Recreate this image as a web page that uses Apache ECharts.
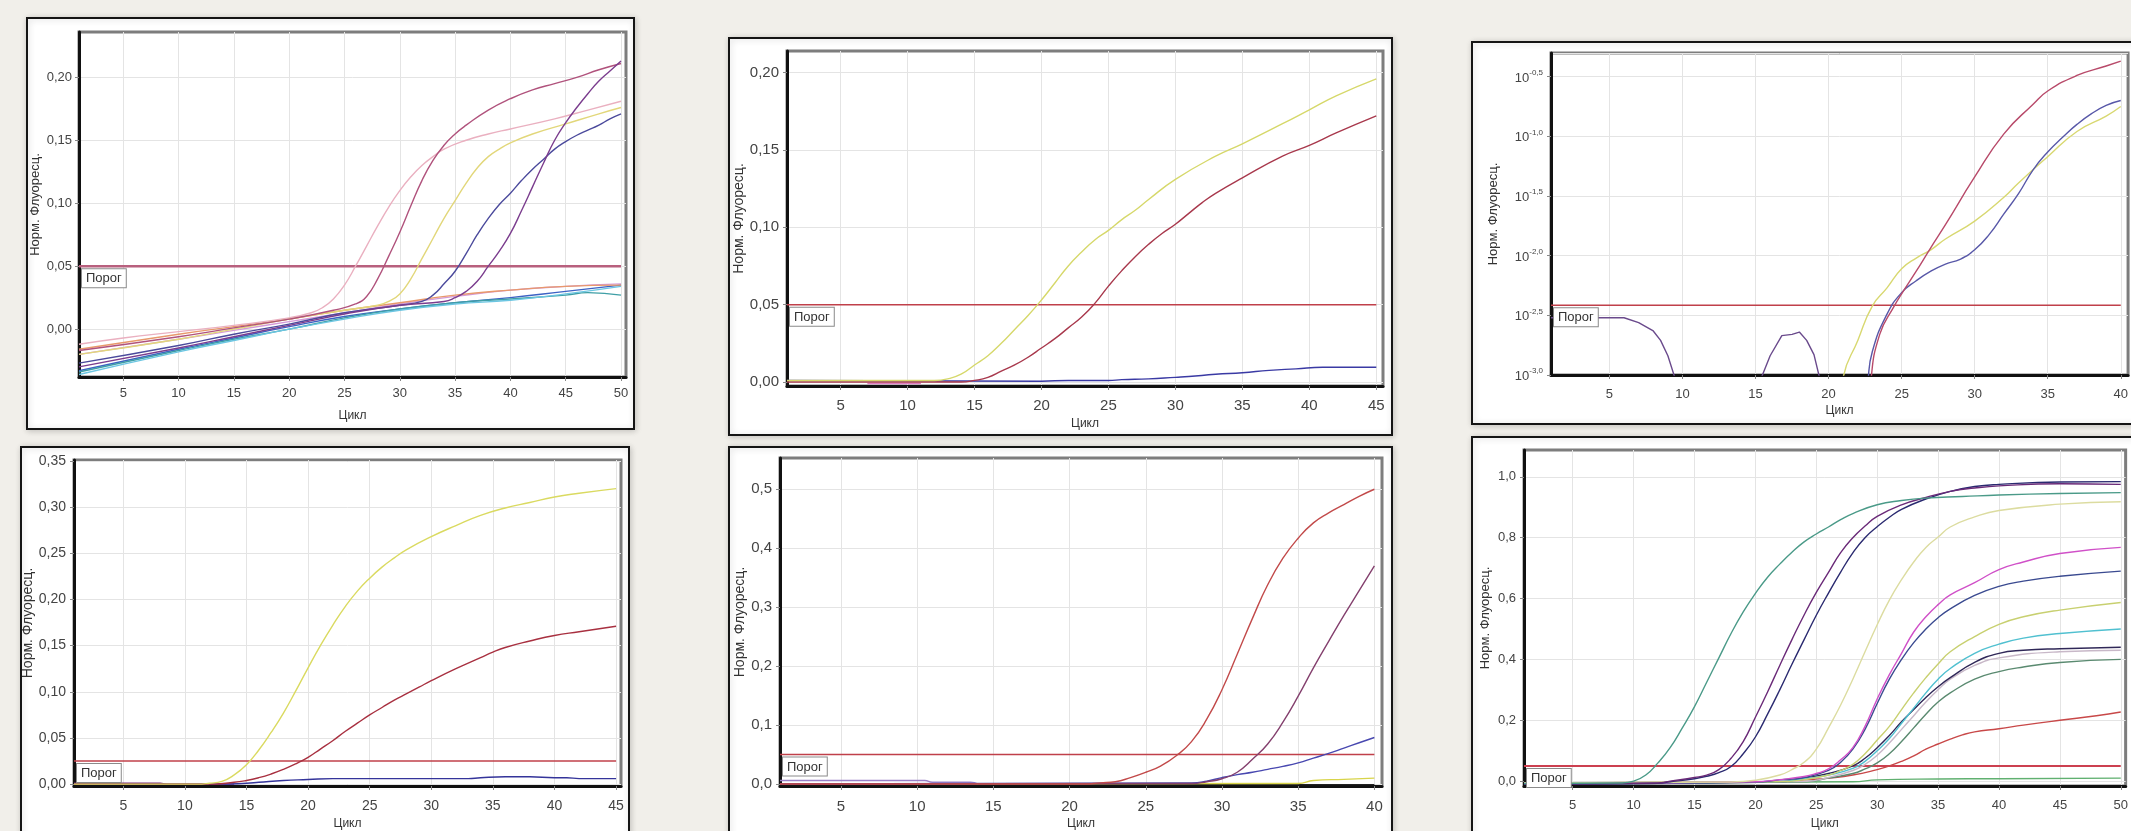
<!DOCTYPE html>
<html><head><meta charset="utf-8">
<script src="https://cdn.jsdelivr.net/npm/echarts@6/dist/echarts.min.js"></script>
<style>html,body{margin:0;padding:0;background:#f1efea;}#c{width:2131px;height:831px;}</style>
</head><body><div id="c"></div>
<script>
// ---------- tick labels ----------
const ticks50 = [5,10,15,20,25,30,35,40,45,50];
const ticks45 = [5,10,15,20,25,30,35,40,45];
const ticks40 = [5,10,15,20,25,30,35,40];
const p1YTicks = [0,0.05,0.10,0.15,0.20];
const p2YTicks = [0,0.05,0.10,0.15,0.20];
const p4YTicks = [0,0.05,0.10,0.15,0.20,0.25,0.30,0.35];
const p5YTicks = [0,0.1,0.2,0.3,0.4,0.5];
const p6YTicks = [0,0.2,0.4,0.6,0.8,1.0];
const thresholds = [0.05, 0.05, 0.00384, 0.025, 0.05, 0.05];
const lastCycle = [50, 45, 40, 45, 40, 50];

// ---------- panel 1 ----------
const p1Rose = [[1,-0.017],[10,-0.006],[15,0.001],[20,0.008],[24,0.015],[26,0.02],[27,0.026],[28,0.04],[29,0.058],[30,0.077],[31,0.098],[32,0.118],[33,0.134],[34,0.146],[35,0.155],[36,0.162],[38,0.174],[40,0.183],[42,0.19],[44,0.195],[46,0.2],[48,0.206],[50,0.211]];
const p1Pink = [[1,-0.012],[5,-0.007],[10,-0.002],[15,0.003],[20,0.009],[22,0.013],[23,0.017],[24,0.024],[25,0.035],[26,0.05],[27,0.066],[28,0.082],[29,0.097],[30,0.11],[31,0.121],[32,0.13],[33,0.137],[34,0.143],[36,0.15],[38,0.155],[40,0.159],[44,0.167],[47,0.174],[50,0.181]];
const p1Yellow = [[1,-0.02],[10,-0.008],[15,0.0],[20,0.008],[25,0.015],[28,0.019],[29,0.022],[30,0.028],[31,0.04],[32,0.056],[33,0.072],[34,0.088],[35,0.102],[36,0.116],[37,0.128],[38,0.137],[39,0.143],[40,0.148],[42,0.155],[45,0.163],[48,0.171],[50,0.176]];
const p1Navy = [[1,-0.027],[10,-0.013],[15,-0.004],[20,0.004],[25,0.013],[30,0.019],[32,0.022],[33,0.027],[34,0.036],[35,0.046],[36,0.06],[37,0.075],[38,0.088],[39,0.099],[40,0.108],[41,0.118],[42,0.127],[43,0.135],[44,0.143],[45,0.149],[46,0.154],[47,0.158],[48,0.162],[49,0.167],[50,0.171]];
const p1Purple = [[1,-0.03],[10,-0.015],[15,-0.006],[20,0.003],[25,0.012],[30,0.019],[34,0.022],[35,0.025],[36,0.03],[37,0.038],[38,0.05],[39,0.062],[40,0.076],[41,0.094],[42,0.113],[43,0.132],[44,0.15],[45,0.164],[46,0.176],[47,0.187],[48,0.197],[49,0.205],[50,0.213]];
const p1Lilac = [[1,-0.02],[10,-0.008],[15,-0.001],[20,0.006],[25,0.013],[30,0.02],[35,0.026],[40,0.031],[45,0.034],[50,0.036]];
const p1Blue = [[1,-0.033],[10,-0.016],[15,-0.007],[20,0.002],[25,0.01],[30,0.016],[35,0.021],[40,0.025],[45,0.03],[50,0.035]];
const p1Teal = [[1,-0.034],[10,-0.017],[15,-0.008],[20,0.0],[25,0.009],[30,0.016],[35,0.021],[40,0.024],[45,0.027],[47,0.029],[50,0.027]];
const p1Cyan = [[1,-0.036],[10,-0.018],[15,-0.009],[20,0.0],[25,0.008],[30,0.015],[35,0.02],[40,0.023],[45,0.028],[50,0.034]];
const p1Orange = [[1,-0.016],[10,-0.004],[15,0.002],[20,0.008],[25,0.015],[30,0.021],[35,0.027],[40,0.031],[45,0.034],[50,0.035]];

// ---------- panel 2 ----------
const p2Yellow = [[1,0.001],[10,0.001],[12,0.001],[13,0.002],[14,0.005],[15,0.011],[16,0.017],[17,0.025],[18,0.034],[19,0.043],[20,0.053],[21,0.064],[22,0.075],[23,0.084],[24,0.092],[25,0.098],[26,0.105],[27,0.111],[28,0.118],[30,0.131],[33,0.146],[35,0.154],[38,0.167],[40,0.176],[42,0.185],[45,0.196]];
const p2Red = [[1,0.0],[12,0.0],[14,0.0],[15,0.001],[16,0.003],[17,0.007],[18,0.011],[19,0.016],[20,0.022],[21,0.028],[22,0.035],[23,0.042],[24,0.051],[25,0.062],[26,0.072],[27,0.081],[28,0.089],[29,0.096],[30,0.102],[31,0.109],[32,0.116],[33,0.122],[35,0.132],[38,0.146],[40,0.153],[42,0.161],[45,0.172]];
const p2Blue = [[1,0.001],[20,0.0005],[22,0.001],[25,0.001],[26,0.0015],[28,0.002],[30,0.003],[31,0.0035],[33,0.005],[35,0.006],[37,0.0075],[39,0.0085],[41,0.0095],[45,0.0095]];
const p2Pink = [[7,-0.001],[11,-0.001]];

// ---------- panel 3 (log) ----------
const p3Red = [[22.8,0.0005],[22.9,0.00089],[23.5,0.00219],[24.5,0.0038],[25,0.00479],[26,0.00741],[27,0.0117],[28,0.0182],[30,0.0457],[32,0.105],[34,0.186],[35,0.24],[37,0.324],[39,0.389],[40,0.427]];
const p3Yellow = [[20.8,0.0005],[21,0.00095],[22,0.00195],[23,0.0038],[24,0.00537],[25,0.00776],[26,0.00955],[27,0.0112],[28,0.0138],[30,0.0195],[32,0.0309],[33,0.0407],[35,0.0676],[37,0.11],[39,0.148],[40,0.178]];
const p3Blue = [[22.6,0.0005],[22.7,0.00089],[23,0.00158],[24,0.00324],[25,0.0049],[26,0.00617],[27,0.00741],[28,0.00851],[29,0.00933],[30,0.0112],[31,0.0151],[32,0.0224],[33,0.0331],[34,0.0525],[35,0.0741],[36,0.0977],[37,0.126],[38,0.155],[39,0.182],[40,0.2]];
const p3Noise = [[1,0.00302],[6,0.00302],[7,0.00275],[8,0.00234],[8.5,0.00195],[9,0.00145],[9.5,0.00093],[9.7,0.0003],[15.1,0.0003],[15.4,0.00095],[16,0.00145],[16.8,0.00214],[17.5,0.00219],[18,0.00229],[18.5,0.00195],[19,0.00148],[19.4,0.00093],[19.6,0.0003]];

// ---------- panel 4 ----------
const p4Yellow = [[1,0.0],[11,0.0],[12,0.001],[13,0.003],[14,0.01],[15,0.021],[16,0.037],[17,0.056],[18,0.077],[19,0.101],[20,0.126],[21,0.15],[22,0.172],[23,0.192],[24,0.209],[25,0.223],[26,0.235],[27,0.245],[28,0.254],[30,0.268],[32,0.28],[34,0.291],[36,0.299],[38,0.305],[40,0.311],[42,0.315],[45,0.32]];
const p4Red = [[1,0.0],[12,0.0],[14,0.002],[15,0.004],[16,0.007],[17,0.011],[18,0.016],[19,0.022],[20,0.029],[21,0.038],[22,0.047],[23,0.057],[24,0.066],[25,0.075],[26,0.083],[27,0.091],[28,0.098],[29,0.105],[30,0.112],[32,0.125],[34,0.137],[35,0.143],[36,0.148],[38,0.155],[40,0.161],[42,0.165],[45,0.171]];
const p4Blue = [[1,0.0],[13,0.0],[15,0.001],[16,0.002],[18,0.004],[20,0.005],[22,0.006],[25,0.006],[30,0.006],[33,0.006],[34,0.007],[36,0.008],[38,0.008],[40,0.007],[41,0.007],[42,0.006],[45,0.006]];
const p4Purple = [[1,0.001],[8,0.001],[8.5,0.0],[14,0.0]];

// ---------- panel 5 ----------
const p5Red = [[1,0.0],[21,0.0],[22,0.002],[23,0.004],[24,0.011],[25,0.02],[26,0.031],[27,0.048],[28,0.072],[29,0.11],[30,0.16],[31,0.22],[32,0.281],[33,0.338],[34,0.383],[35,0.417],[36,0.443],[37,0.46],[38,0.474],[39,0.488],[40,0.5]];
const p5Purple = [[1,0.0],[28,0.001],[29,0.004],[30,0.009],[31,0.02],[32,0.042],[33,0.068],[34,0.105],[35,0.149],[36,0.197],[37,0.242],[38,0.286],[39,0.328],[40,0.37]];
const p5Blue = [[1,0.0],[28,0.002],[29,0.005],[30,0.011],[31,0.016],[32,0.02],[33,0.025],[34,0.03],[35,0.036],[36,0.044],[37,0.052],[38,0.061],[39,0.07],[40,0.079]];
const p5Yellow = [[1,0.0],[35,0.001],[36,0.006],[38,0.008],[40,0.01]];
const p5Lavender = [[1,0.006],[10.5,0.006],[11,0.003],[13.5,0.003],[14,0.0]];
const p5Dark = [[1,-0.001],[40,-0.001]];

// ---------- panel 6 ----------
const p6Teal = [[1,-0.008],[9,-0.006],[10,0.0],[11,0.02],[12,0.06],[13,0.11],[14,0.175],[15,0.245],[16,0.325],[17,0.405],[18,0.485],[19,0.556],[20,0.617],[21,0.67],[22,0.713],[23,0.752],[24,0.786],[25,0.812],[26,0.835],[27,0.859],[28,0.879],[30,0.908],[32,0.922],[34,0.93],[37,0.935],[40,0.94],[45,0.945],[50,0.948]];
const p6Purple = [[1,-0.009],[12,-0.006],[13,0.0],[15,0.012],[16,0.02],[17,0.038],[18,0.075],[19,0.13],[20,0.21],[21,0.293],[22,0.38],[23,0.465],[24,0.546],[25,0.62],[26,0.686],[27,0.751],[28,0.8],[29,0.838],[30,0.87],[32,0.908],[34,0.932],[36,0.952],[38,0.963],[40,0.97],[45,0.977],[50,0.975]];
const p6Navy = [[1,-0.01],[12,-0.007],[13,-0.002],[15,0.008],[16,0.016],[17,0.028],[18,0.048],[19,0.09],[20,0.145],[21,0.22],[22,0.3],[23,0.384],[24,0.465],[25,0.545],[26,0.618],[27,0.687],[28,0.75],[29,0.8],[30,0.836],[31,0.867],[32,0.893],[34,0.927],[36,0.952],[38,0.968],[40,0.975],[45,0.983],[50,0.984]];
const p6PaleYellow = [[1,-0.006],[18,-0.003],[20,0.003],[22,0.02],[23,0.038],[24,0.062],[25,0.105],[26,0.175],[27,0.25],[28,0.335],[29,0.425],[30,0.514],[31,0.595],[32,0.662],[33,0.72],[34,0.768],[35,0.802],[36,0.835],[38,0.868],[40,0.889],[45,0.91],[50,0.918]];
const p6Magenta = [[1,-0.007],[20,-0.002],[22,0.005],[24,0.015],[25,0.025],[26,0.04],[27,0.07],[28,0.11],[29,0.18],[30,0.27],[31,0.35],[32,0.42],[33,0.49],[34,0.54],[35,0.58],[36,0.612],[38,0.652],[40,0.695],[42,0.72],[45,0.748],[50,0.768]];
const p6Slate = [[1,-0.008],[20,-0.003],[22,0.004],[24,0.012],[26,0.035],[27,0.062],[28,0.105],[29,0.17],[30,0.255],[31,0.335],[32,0.4],[33,0.455],[34,0.5],[35,0.537],[36,0.566],[38,0.61],[40,0.64],[42,0.657],[45,0.673],[50,0.69]];
const p6Lime = [[1,-0.007],[22,-0.002],[24,0.005],[26,0.02],[27,0.035],[28,0.055],[29,0.09],[30,0.135],[31,0.18],[32,0.235],[33,0.29],[34,0.34],[35,0.385],[36,0.425],[38,0.475],[40,0.515],[42,0.54],[45,0.562],[50,0.587]];
const p6Cyan = [[1,-0.008],[22,-0.002],[24,0.008],[26,0.02],[28,0.042],[29,0.065],[30,0.1],[31,0.14],[32,0.19],[33,0.24],[34,0.29],[35,0.335],[36,0.37],[38,0.42],[40,0.45],[42,0.47],[45,0.485],[50,0.5]];
const p6Dark = [[1,-0.01],[22,-0.003],[24,0.01],[26,0.025],[28,0.05],[29,0.075],[30,0.11],[31,0.15],[32,0.195],[33,0.235],[34,0.275],[35,0.31],[36,0.34],[38,0.39],[40,0.42],[42,0.43],[45,0.435],[50,0.44]];
const p6Gray = [[1,-0.006],[24,-0.001],[26,0.012],[28,0.035],[29,0.055],[30,0.085],[31,0.125],[32,0.17],[33,0.215],[34,0.26],[35,0.3],[36,0.335],[38,0.38],[40,0.405],[45,0.425],[50,0.43]];
const p6Sage = [[1,-0.009],[24,-0.002],[26,0.01],[28,0.025],[29,0.04],[30,0.06],[31,0.09],[32,0.13],[33,0.175],[34,0.22],[35,0.26],[36,0.29],[38,0.335],[40,0.36],[42,0.375],[45,0.39],[50,0.4]];
const p6Red = [[1,-0.007],[22,-0.002],[24,0.004],[26,0.01],[28,0.02],[30,0.038],[31,0.05],[32,0.065],[33,0.083],[34,0.105],[35,0.122],[36,0.138],[37,0.152],[38,0.162],[40,0.172],[42,0.184],[45,0.2],[48,0.215],[50,0.227]];
const p6Green = [[1,-0.006],[28,-0.002],[30,0.004],[35,0.007],[40,0.008],[50,0.01]];

// ---------- layout / styles ----------
const FONT = 'Liberation Sans, Arial, sans-serif';
const panels = [
  {grid:{left:79,top:32,width:547,height:345}, box:[27,18,607,411], xMax:50.45, xTicks:ticks50, yMin:-0.038, yMax:0.236, yTicks:p1YTicks, dec:2, fs:13, nfs:13, gapY:37, gapX:33, mX:10, mY:7, thrColor:'#b8607e', thrW:2.5,
   lines:[[p1Lilac,'#d49ad8'],[p1Blue,'#3d62c4'],[p1Teal,'#3f9fa6'],[p1Cyan,'#6cc6e2'],[p1Orange,'#e8996c'],[p1Pink,'#eab0c0'],[p1Yellow,'#e2d77a'],[p1Navy,'#4b4a9c'],[p1Rose,'#b0527c'],[p1Purple,'#7b3d8e']]},
  {grid:{left:787,top:51,width:596,height:335}, box:[729,38,663,397], xMax:45.5, xTicks:ticks45, yMin:-0.0026, yMax:0.214, yTicks:p2YTicks, dec:2, fs:15, nfs:14, gapY:38, gapX:32, mX:12, mY:8, thrColor:'#c0404a', thrW:1.5,
   lines:[[p2Pink,'#e07cc0'],[p2Blue,'#3a3aa4'],[p2Red,'#a8384c'],[p2Yellow,'#d6d86a']]},
  {grid:{left:1551,top:53,width:579,height:322}, box:[1472,42,680,382], xMax:40.5, xTicks:ticks40, log:true, fs:13, nfs:13, gapY:51, gapX:30, mX:13, mY:8, thrColor:'#c0404a', thrW:1.5,
   lines:[[p3Noise,'#6a4a8c',false],[p3Yellow,'#d8d870'],[p3Blue,'#5858a8'],[p3Red,'#b84a6a']]},
  {grid:{left:74,top:460,width:547,height:335}, box:[21,447,608,420], xMax:45.4, xTicks:ticks45, yMin:-0.002, yMax:0.351, yTicks:p4YTicks, dec:2, fs:14, nfs:14, gapY:34, gapX:32, mX:13, mY:8, thrColor:'#c0404a', thrW:1.5,
   lines:[[p4Purple,'#7a2a7a'],[p4Blue,'#34349a'],[p4Red,'#a83040'],[p4Yellow,'#dada60']]},
  {grid:{left:780,top:458,width:602,height:338}, box:[729,447,663,420], xMax:40.5, xTicks:ticks40, yMin:-0.0033, yMax:0.553, yTicks:p5YTicks, dec:1, fs:15, nfs:14, gapY:31, gapX:32, mX:13, mY:8, thrColor:'#c0404a', thrW:1.5,
   lines:[[p5Dark,'#222222'],[p5Lavender,'#9a80c8'],[p5Yellow,'#d8d44a'],[p5Blue,'#4848b0'],[p5Purple,'#84406e'],[p5Red,'#c24a4a']]},
  {grid:{left:1524,top:450,width:609,height:340}, box:[1472,437,680,430], xMax:50.4, xTicks:ticks50, yMin:-0.016, yMax:1.088, yTicks:p6YTicks, dec:1, fs:13, nfs:13, gapY:32, gapX:32, mX:13, mY:8, thrColor:'#cc4050', thrW:2,
   lines:[[p6Green,'#60b070'],[p6Red,'#c84848'],[p6Sage,'#5a8a70'],[p6Gray,'#c8b8c8'],[p6Dark,'#302858'],[p6Cyan,'#50c0d0'],[p6Lime,'#c8d070'],[p6Slate,'#3a4a90'],[p6Magenta,'#d050c8'],[p6PaleYellow,'#dcdca0'],[p6Navy,'#2a2a70'],[p6Purple,'#6a2a78'],[p6Teal,'#4a9a88']]}
];

const grids = [], xAxes = [], yAxes = [], series = [], graphics = [];
panels.forEach(function (p, i) {
  graphics.push({type:'rect', z:-10, shape:{x:p.box[0], y:p.box[1], width:p.box[2], height:p.box[3]},
    style:{fill:'#ffffff', stroke:'#151515', lineWidth:2, shadowBlur:6, shadowColor:'rgba(0,0,0,0.18)', shadowOffsetX:1, shadowOffsetY:1}});
  grids.push(Object.assign({show:true, backgroundColor:'#ffffff', borderColor:'#7d7d7d', borderWidth:3}, p.grid));
  xAxes.push({type:'value', gridIndex:i, min:1, max:p.xMax,
    name:'Цикл', nameLocation:'middle', nameGap:p.gapX, nameTextStyle:{fontFamily:FONT, fontSize:12, color:'#333'},
    axisLine:{show:true, onZero:false, lineStyle:{color:'#111', width:3}},
    axisTick:{show:true, customValues:p.xTicks, length:4, lineStyle:{color:'#888'}},
    axisLabel:{customValues:p.xTicks, fontFamily:FONT, fontSize:p.fs, color:'#444', margin:p.mX},
    splitLine:{show:true, lineStyle:{color:'#e4e4e4', width:1}}});
  const y = {gridIndex:i, name:'Норм. Флуоресц.', nameLocation:'middle', nameGap:p.gapY,
    nameTextStyle:{fontFamily:FONT, fontSize:p.nfs, color:'#333'},
    axisLine:{show:true, onZero:false, lineStyle:{color:'#111', width:3}},
    splitLine:{show:true, lineStyle:{color:'#e4e4e4', width:1}}};
  if (p.log) {
    Object.assign(y, {type:'log', logBase:10, min:0.001, max:0.5, interval:0.5,
      axisTick:{show:true, length:4, lineStyle:{color:'#888'}},
      axisLabel:{showMaxLabel:false, margin:p.mY, formatter:function (v) {
        const e = Math.log10(v);
        return '{b|10}{e|' + e.toFixed(1).replace('.', ',') + '}';
      }, rich:{b:{fontFamily:FONT, fontSize:13, color:'#444', lineHeight:16, verticalAlign:'bottom'},
               e:{fontFamily:FONT, fontSize:8, color:'#444', lineHeight:16, verticalAlign:'top'}}}});
  } else {
    Object.assign(y, {type:'value', min:p.yMin, max:p.yMax,
      axisTick:{show:true, customValues:p.yTicks, length:4, lineStyle:{color:'#888'}},
      axisLabel:{customValues:p.yTicks, fontFamily:FONT, fontSize:p.fs, color:'#444', margin:p.mY,
        formatter:function (v) { return v.toFixed(p.dec).replace('.', ','); }}});
  }
  yAxes.push(y);
  p.lines.forEach(function (l) {
    series.push({type:'line', xAxisIndex:i, yAxisIndex:i, data:l[0], showSymbol:false,
      smooth: l[2] === false ? false : 0.5, clip:true, silent:true,
      lineStyle:{color:l[1], width:1.4}, itemStyle:{color:l[1]}, z:3});
  });
  series.push({type:'line', xAxisIndex:i, yAxisIndex:i, data:[[1, thresholds[i]], [lastCycle[i], thresholds[i]]],
    showSymbol:false, clip:true, silent:true, z:2,
    lineStyle:{color:p.thrColor, width:p.thrW}, itemStyle:{color:p.thrColor},
    markLine:{silent:true, symbol:'none', lineStyle:{color:'rgba(0,0,0,0)', width:1},
      data:[[{coord:[1, thresholds[i]]}, {coord:[lastCycle[i], thresholds[i]]}]],
      label:{show:true, formatter:'Порог', position:'insideStartBottom', distance:3,
        fontFamily:FONT, fontSize:13, color:'#333', backgroundColor:'#ffffff',
        borderColor:'#8a8a8a', borderWidth:1, padding:[3,4,2,4]}}});
});

const chart = echarts.init(document.getElementById('c'));
chart.setOption({
  backgroundColor:'#f1efea', animation:false,
  textStyle:{fontFamily:FONT},
  graphic:{elements:graphics},
  grid:grids, xAxis:xAxes, yAxis:yAxes, series:series
});
</script></body></html>
